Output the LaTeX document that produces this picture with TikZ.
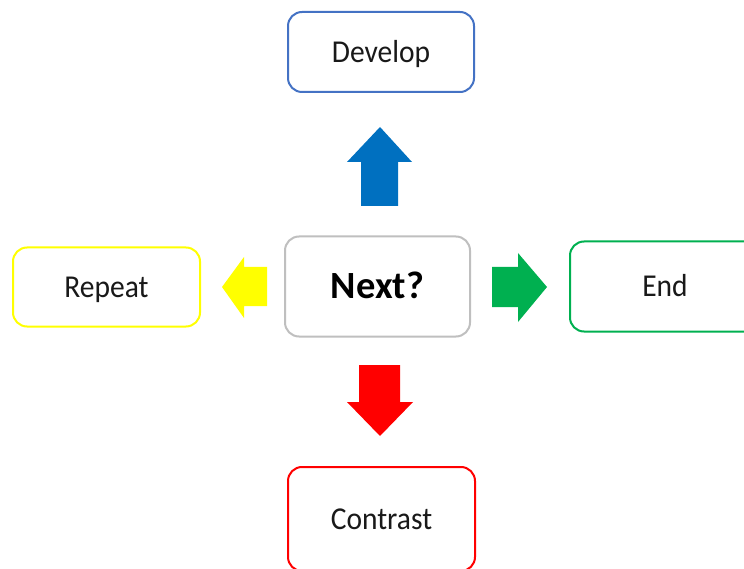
\documentclass[tikz,border=0pt]{standalone}
\usepackage{fontspec}
\usepackage{graphicx}
\setmainfont{Carlito}
\definecolor{cblue}{RGB}{68,114,196}
\definecolor{ablue}{RGB}{0,112,192}
\definecolor{cyel}{RGB}{255,255,0}
\definecolor{cgreen}{RGB}{0,176,80}
\definecolor{cred}{RGB}{255,0,0}
\definecolor{cgray}{RGB}{191,191,191}
\newcommand{\vstretch}[1]{\scalebox{1}[1.08]{#1}}
\begin{document}
\begin{tikzpicture}[x=1pt,y=-1pt,
  box/.style={draw, line width=2pt, rounded corners=14pt, fill=white,
    inner sep=0pt, text height=20.5pt, text depth=0pt,
    font=\fontsize{29.5}{34}\selectfont, text=black!90}]
\useasboundingbox (0,0) rectangle (744,569);
\clip (0,0) rectangle (744,569);
\node[box, draw=cblue, minimum width=186pt, minimum height=80pt] (develop) at (381,52) {\vstretch{Develop}};
\node[box, draw=cgray, minimum width=185pt, minimum height=100pt, text height=24.8pt,
  font=\fontsize{38.5}{44}\selectfont\bfseries, text=black] (next) at (377.5,286.5) {Next?};
\node[box, draw=cyel, minimum width=187pt, minimum height=79pt] (repeat) at (106.5,287) {\vstretch{Repeat}};
\node[box, draw=cgreen, minimum width=190pt, minimum height=90pt] (end) at (665,286.5) {\vstretch{End}};
\node[box, draw=cred, minimum width=187pt, minimum height=104pt] (contrast) at (381.5,519) {\vstretch{Contrast}};
% block arrows
\fill[ablue] (380,127) -- (412,162) -- (398,162) -- (398,206) -- (361,206) -- (361,162) -- (347,162) -- cycle;
\fill[cyel] (222,287) -- (244,257) -- (244,267) -- (267,267) -- (267,306) -- (244,306) -- (244,318) -- cycle;
\fill[cgreen] (547,287) -- (518,253) -- (518,267) -- (492,267) -- (492,307) -- (518,307) -- (518,322) -- cycle;
\fill[cred] (380,436) -- (413,402) -- (400,402) -- (400,365) -- (359,365) -- (359,402) -- (347,402) -- cycle;
\end{tikzpicture}
\end{document}
